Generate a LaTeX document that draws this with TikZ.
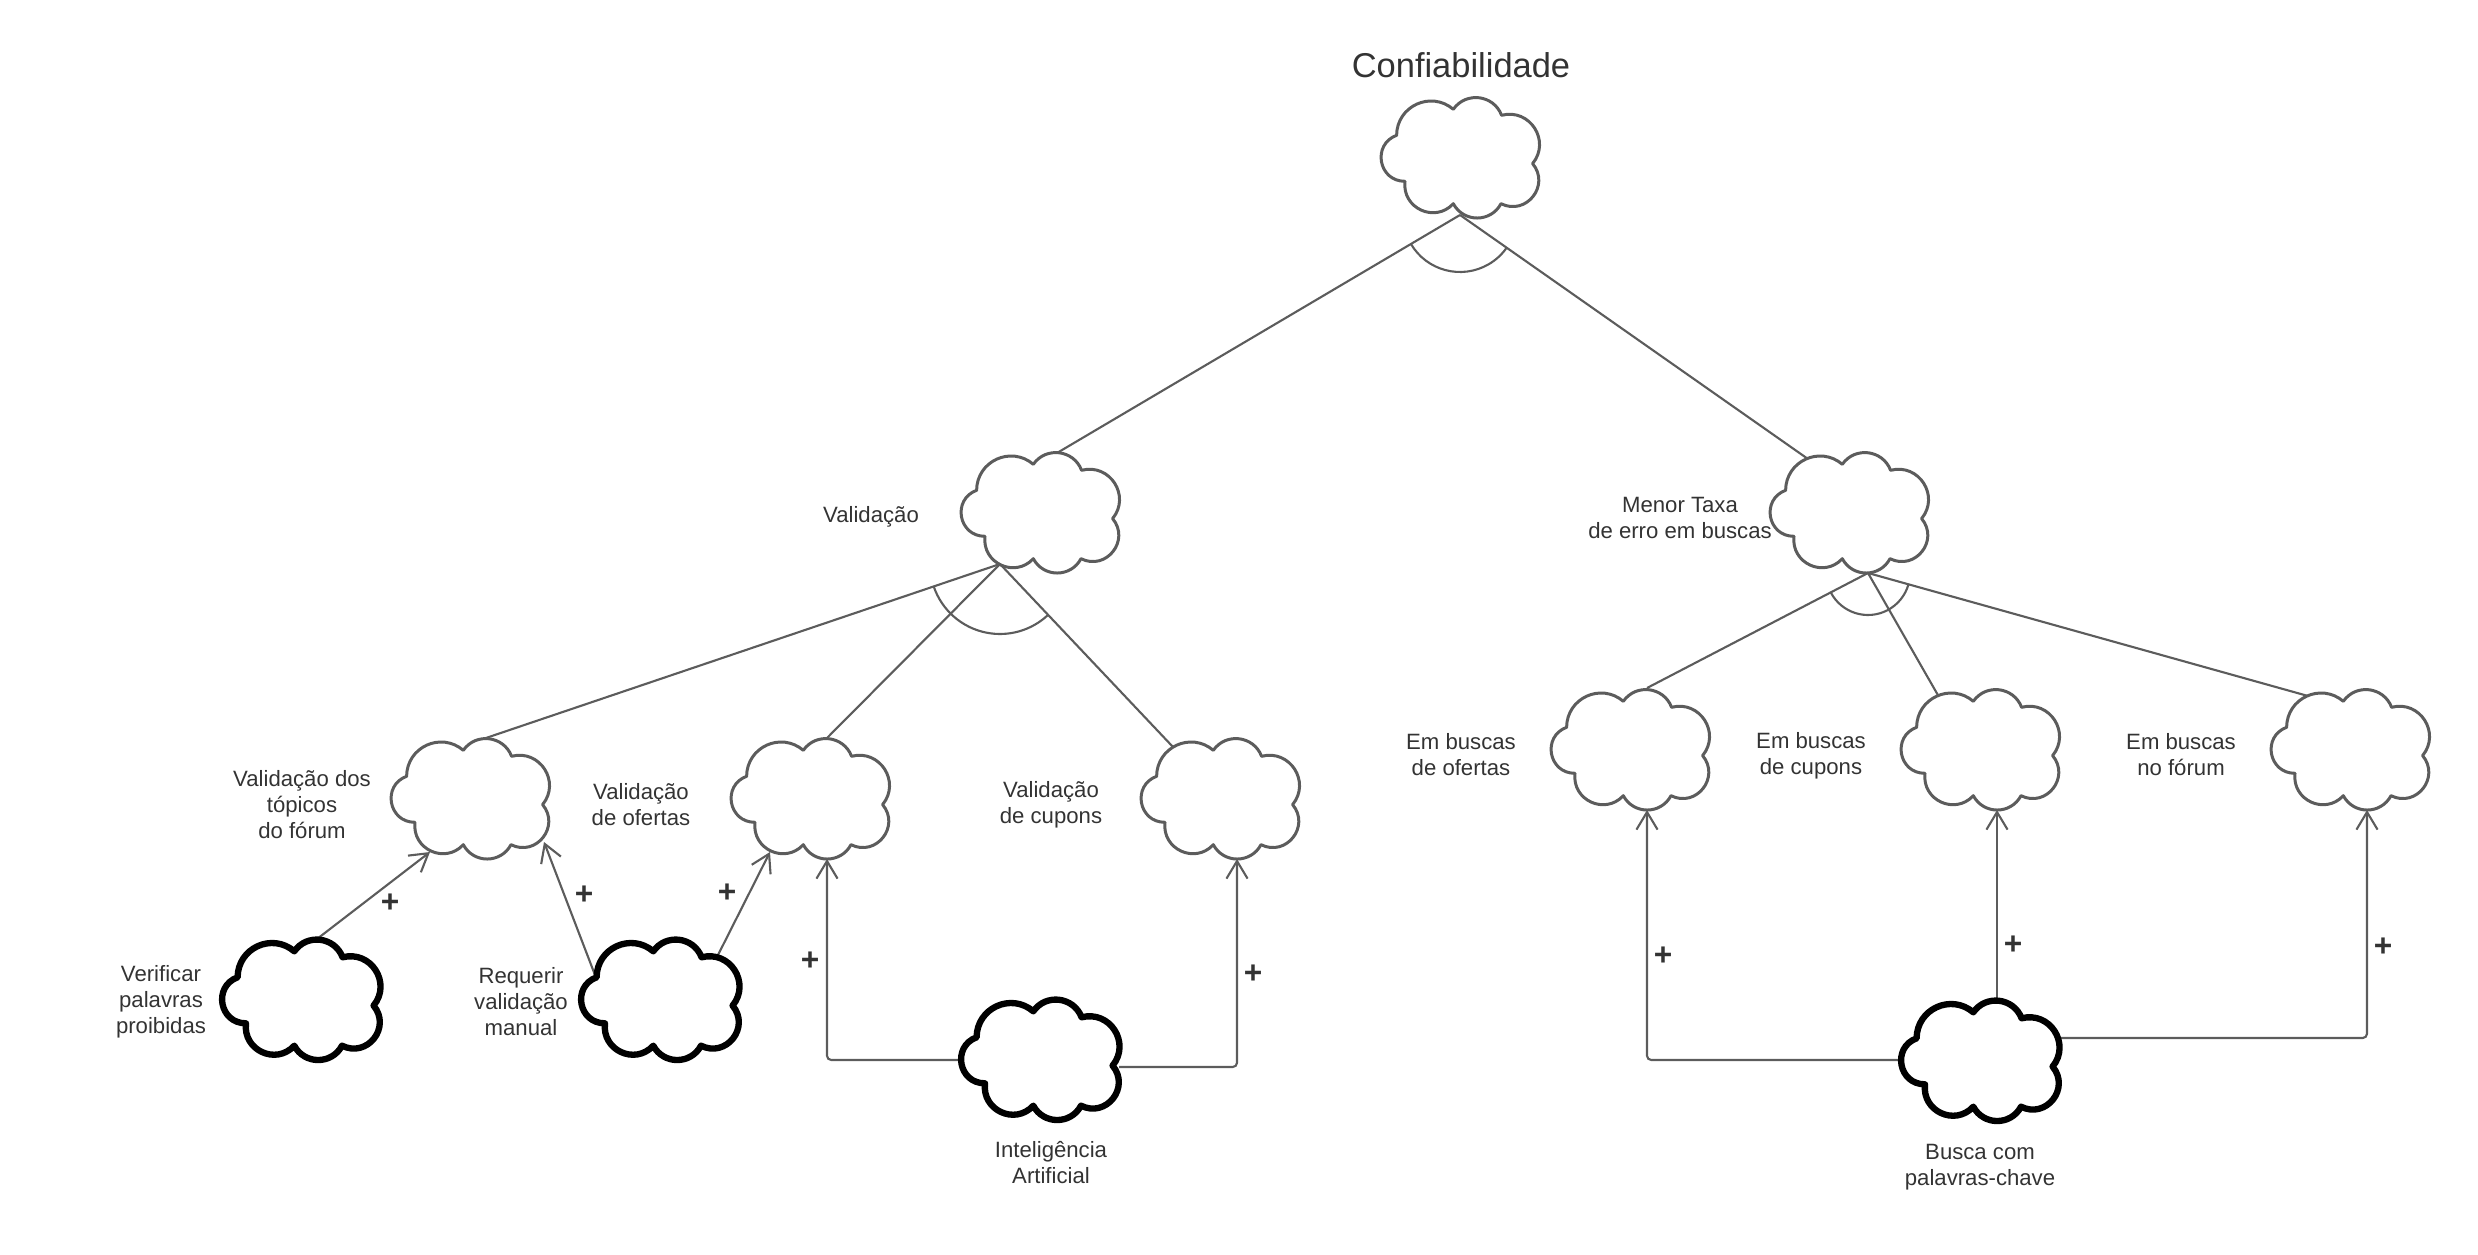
\documentclass[tikz,border=0pt]{standalone}
\usepackage{fontspec}
\setmainfont{Liberation Sans}
\usetikzlibrary{arrows.meta}

\definecolor{edgegray}{RGB}{92,92,92}
\definecolor{textgray}{RGB}{51,51,51}

% cloud outline (7 lobes), drawn around the centre of a named node
\newcommand\cloudat[2]{%
  \draw[#2,shift={(#1.center)}]
    (-63.4,22.7) .. controls (-63.2,52.0) and (-29.0,67.7) .. (-6.7,48.7)
    .. controls (6.0,66.8) and (33.7,63.3) .. (41.6,42.7)
    .. controls (69.9,50.1) and (91.1,17.0) .. (72.6,-5.6)
    .. controls (90.6,-27.3) and (66.3,-58.2) .. (41.0,-45.7)
    .. controls (30.8,-64.8) and (3.5,-64.8) .. (-6.7,-45.7)
    .. controls (-25.1,-65.6) and (-58.3,-50.2) .. (-55.0,-23.3)
    .. controls (-81.6,-23.5) and (-88.3,13.5) .. (-63.4,22.7) -- cycle;}

\tikzset{
  cloudbox/.style={minimum width=1.6cm, minimum height=1.2cm, inner sep=0pt, outer sep=0pt},
  softgoal/.style={draw=edgegray, line width=0.85pt, fill=white, line join=round},
  hardgoal/.style={draw=black, line width=1.8pt, fill=white, line join=round},
  link/.style={draw=edgegray, line width=0.6pt},
  influence/.style={link, rounded corners=1.2pt, -{Straight Barb[length=5pt,width=6pt]}},
  lbl/.style={text=textgray, align=center, inner sep=0pt,
    font=\fontsize{6.3}{7.4}\selectfont},
  plus/.style={text=textgray, inner sep=0pt, font=\fontsize{9}{9}\selectfont\bfseries},
}

\begin{document}
\begin{tikzpicture}[x=0.01cm,y=0.01cm]
\useasboundingbox (0,0) rectangle (2478,-1255);

% goal positions
\node[cloudbox] (conf)     at (1460,-158) {};
\node[cloudbox] (val)      at (1040,-513) {};
\node[cloudbox] (menor)    at (1849,-513) {};
\node[cloudbox] (topicos)  at (470,-799) {};
\node[cloudbox] (ofertas)  at (810,-799) {};
\node[cloudbox] (cupons)   at (1220,-799) {};
\node[cloudbox] (bofertas) at (1630,-750) {};
\node[cloudbox] (bcupons)  at (1980,-750) {};
\node[cloudbox] (bforum)   at (2350,-750) {};
\node[cloudbox] (verif)    at (301,-1000) {};
\node[cloudbox] (requer)   at (660,-1000) {};
\node[cloudbox] (ia)       at (1040,-1060) {};
\node[cloudbox] (busca)    at (1980,-1061) {};

% AND decompositions
\coordinate (confj)  at ([shift={(0,-57)}]conf.center);
\coordinate (valj)   at ([shift={(-40,-51)}]val.center);
\coordinate (menorj) at ([shift={(19,-60)}]menor.center);

\draw[link] (confj) -- ([shift={(17,60)}]val.center);
\draw[link] (confj) -- ([shift={(-41,54)}]menor.center);
\draw[link] (confj) ++(210.25:57) arc[start angle=210.25, end angle=325.3, radius=57];

\draw[link] (valj) -- ([shift={(13,60)}]topicos.center);
\draw[link] (valj) -- ([shift={(17,61)}]ofertas.center);
\draw[link] (valj) -- ([shift={(-47,52)}]cupons.center);
\draw[link] (valj) ++(198.7:70) arc[start angle=198.7, end angle=313.4, radius=70];

\draw[link] (menorj) -- ([shift={(17,62)}]bofertas.center);
\draw[link] (menorj) -- ([shift={(-41,53)}]bcupons.center);
\draw[link] (menorj) -- ([shift={(-42,54)}]bforum.center);
\draw[link] (menorj) ++(207.5:42) arc[start angle=207.5, end angle=344.4, radius=42];

% contributions
\draw[influence] ([shift={(16,61)}]verif.center) -- ([shift={(-40,-53)}]topicos.center);
\draw[influence] ([shift={(-65,25)}]requer.center) -- ([shift={(74,-43)}]topicos.center);
\draw[influence] ([shift={(58,45)}]requer.center) -- ([shift={(-40,-53)}]ofertas.center);
\draw[influence] ([shift={(-79,0)}]ia.center) -| ([shift={(17,-60)}]ofertas.center);
\draw[influence] ([shift={(79,-7)}]ia.center) -| ([shift={(17,-60)}]cupons.center);
\draw[influence] ([shift={(-79,1)}]busca.center) -| ([shift={(17,-60)}]bofertas.center);
\draw[influence] ([shift={(17,60)}]busca.center) -- ([shift={(17,-60)}]bcupons.center);
\draw[influence] ([shift={(77,23)}]busca.center) -| ([shift={(17,-60)}]bforum.center);

% goal outlines
\cloudat{conf}{softgoal}
\cloudat{val}{softgoal}
\cloudat{menor}{softgoal}
\cloudat{topicos}{softgoal}
\cloudat{ofertas}{softgoal}
\cloudat{cupons}{softgoal}
\cloudat{bofertas}{softgoal}
\cloudat{bcupons}{softgoal}
\cloudat{bforum}{softgoal}
\cloudat{verif}{hardgoal}
\cloudat{requer}{hardgoal}
\cloudat{ia}{hardgoal}
\cloudat{busca}{hardgoal}

% texts
\node[text=textgray, inner sep=0pt, font=\fontsize{9.8}{11}\selectfont] (title) at (1461,-65) {Confiabilidade};
\node[lbl] (valtxt)      at (871,-517)  {Validação};
\node[lbl] (menortxt)    at (1680,-518) {Menor Taxa\\de erro em buscas};
\node[lbl] (topicostxt)  at (302,-805)  {Validação dos\\tópicos\\do fórum};
\node[lbl] (ofertastxt)  at (641,-805)  {Validação\\de ofertas};
\node[lbl] (cuponstxt)   at (1051,-805) {Validação\\de cupons};
\node[lbl] (bofertastxt) at (1461,-755) {Em buscas\\de ofertas};
\node[lbl] (bcuponstxt)  at (1811,-756) {Em buscas\\de cupons};
\node[lbl] (bforumtxt)   at (2181,-755) {Em buscas\\no fórum};
\node[lbl] (veriftxt)    at (161,-1002) {Verificar\\palavras\\proibidas};
\node[lbl] (requertxt)   at (521,-1002) {Requerir\\validação\\manual};
\node[lbl] (iatxt)       at (1051,-1163) {Inteligência\\Artificial};
\node[lbl] (buscatxt)    at (1980,-1167) {Busca com\\palavras-chave};

% contribution signs
\node[plus] (p1) at (390,-903)  {+};
\node[plus] (p2) at (584,-895)  {+};
\node[plus] (p3) at (727,-893)  {+};
\node[plus] (p4) at (810,-961)  {+};
\node[plus] (p5) at (1253,-974) {+};
\node[plus] (p6) at (1663,-956) {+};
\node[plus] (p7) at (2013,-945) {+};
\node[plus] (p8) at (2383,-947) {+};
\end{tikzpicture}
\end{document}
